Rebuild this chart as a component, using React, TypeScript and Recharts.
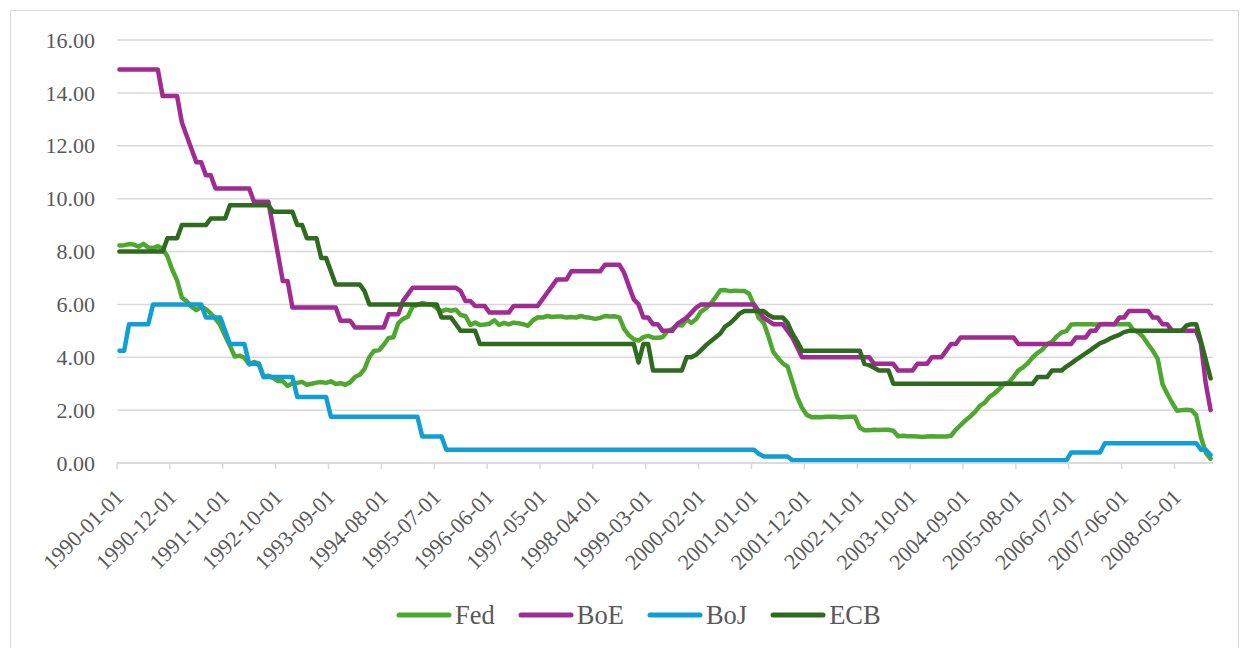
import React from "react";
import { LineChart, Line, XAxis, YAxis, CartesianGrid, Legend } from "recharts";

// monthly categories, Jan 1990 .. Dec 2008
const dates: string[] = [];
for (let y = 1990; y <= 2008; y++) {
  for (let m = 1; m <= 12; m++) dates.push(`${y}-${String(m).padStart(2, "0")}-01`);
}

// one row per year, 12 months each
const fed = [
  8.23, 8.24, 8.28, 8.26, 8.18, 8.29, 8.15, 8.13, 8.2, 8.11, 7.81, 7.31,
  6.91, 6.25, 6.12, 5.91, 5.78, 5.9, 5.82, 5.66, 5.45, 5.21, 4.81, 4.43,
  4.03, 4.06, 3.98, 3.73, 3.82, 3.76, 3.25, 3.3, 3.22, 3.1, 3.09, 2.92,
  3.02, 3.03, 3.07, 2.96, 3.0, 3.04, 3.06, 3.03, 3.09, 2.99, 3.02, 2.96,
  3.05, 3.25, 3.34, 3.56, 4.01, 4.25, 4.26, 4.47, 4.73, 4.76, 5.29, 5.45,
  5.53, 5.92, 5.98, 6.05, 6.01, 6.0, 5.85, 5.74, 5.8, 5.76, 5.8, 5.6,
  5.56, 5.22, 5.31, 5.22, 5.24, 5.27, 5.4, 5.22, 5.3, 5.24, 5.31, 5.29,
  5.25, 5.19, 5.39, 5.51, 5.5, 5.56, 5.52, 5.54, 5.54, 5.5, 5.52, 5.5,
  5.56, 5.51, 5.49, 5.45, 5.49, 5.56, 5.54, 5.55, 5.51, 5.07, 4.83, 4.68,
  4.63, 4.76, 4.81, 4.74, 4.74, 4.76, 4.99, 5.07, 5.22, 5.2, 5.42, 5.3,
  5.45, 5.73, 5.85, 6.02, 6.27, 6.53, 6.54, 6.5, 6.52, 6.51, 6.51, 6.4,
  5.98, 5.49, 5.31, 4.8, 4.21, 3.97, 3.77, 3.65, 3.07, 2.49, 2.09, 1.82,
  1.73, 1.74, 1.73, 1.75, 1.75, 1.75, 1.73, 1.74, 1.75, 1.75, 1.34, 1.24,
  1.24, 1.26, 1.25, 1.26, 1.26, 1.22, 1.01, 1.03, 1.01, 1.01, 1.0, 0.98,
  1.0, 1.01, 1.0, 1.0, 1.0, 1.03, 1.26, 1.43, 1.61, 1.76, 1.93, 2.16,
  2.28, 2.5, 2.63, 2.79, 3.0, 3.04, 3.26, 3.5, 3.62, 3.78, 4.0, 4.16,
  4.29, 4.49, 4.59, 4.79, 4.94, 4.99, 5.24, 5.25, 5.25, 5.25, 5.25, 5.24,
  5.25, 5.26, 5.26, 5.25, 5.25, 5.25, 5.26, 5.02, 4.94, 4.76, 4.49, 4.24,
  3.94, 2.98, 2.61, 2.28, 1.98, 2.0, 2.01, 2.0, 1.81, 0.97, 0.39, 0.16,
];

const boe = [
  14.88, 14.88, 14.88, 14.88, 14.88, 14.88, 14.88, 14.88, 14.88, 13.88, 13.88, 13.88,
  13.88, 12.88, 12.38, 11.88, 11.38, 11.38, 10.88, 10.88, 10.38, 10.38, 10.38, 10.38,
  10.38, 10.38, 10.38, 10.38, 9.88, 9.88, 9.88, 9.88, 8.88, 7.88, 6.88, 6.88,
  5.88, 5.88, 5.88, 5.88, 5.88, 5.88, 5.88, 5.88, 5.88, 5.88, 5.38, 5.38,
  5.38, 5.13, 5.13, 5.13, 5.13, 5.13, 5.13, 5.13, 5.63, 5.63, 5.63, 6.13,
  6.38, 6.63, 6.63, 6.63, 6.63, 6.63, 6.63, 6.63, 6.63, 6.63, 6.63, 6.5,
  6.13, 6.13, 5.94, 5.94, 5.94, 5.69, 5.69, 5.69, 5.69, 5.69, 5.94, 5.94,
  5.94, 5.94, 5.94, 5.94, 6.19, 6.44, 6.69, 6.94, 6.94, 6.94, 7.25, 7.25,
  7.25, 7.25, 7.25, 7.25, 7.25, 7.5, 7.5, 7.5, 7.5, 7.19, 6.69, 6.19,
  6.0, 5.5, 5.5, 5.25, 5.25, 5.0, 5.0, 5.0, 5.25, 5.38, 5.5, 5.69,
  5.88, 6.0, 6.0, 6.0, 6.0, 6.0, 6.0, 6.0, 6.0, 6.0, 6.0, 6.0,
  6.0, 5.75, 5.5, 5.38, 5.25, 5.25, 5.25, 5.0, 4.75, 4.38, 4.0, 4.0,
  4.0, 4.0, 4.0, 4.0, 4.0, 4.0, 4.0, 4.0, 4.0, 4.0, 4.0, 4.0,
  4.0, 3.75, 3.75, 3.75, 3.75, 3.75, 3.5, 3.5, 3.5, 3.5, 3.75, 3.75,
  3.75, 4.0, 4.0, 4.0, 4.25, 4.5, 4.5, 4.75, 4.75, 4.75, 4.75, 4.75,
  4.75, 4.75, 4.75, 4.75, 4.75, 4.75, 4.75, 4.5, 4.5, 4.5, 4.5, 4.5,
  4.5, 4.5, 4.5, 4.5, 4.5, 4.5, 4.5, 4.75, 4.75, 4.75, 5.0, 5.0,
  5.25, 5.25, 5.25, 5.25, 5.5, 5.5, 5.75, 5.75, 5.75, 5.75, 5.75, 5.5,
  5.5, 5.25, 5.25, 5.0, 5.0, 5.0, 5.0, 5.0, 5.0, 4.5, 3.0, 2.0,
];

const boj = [
  4.25, 4.25, 5.25, 5.25, 5.25, 5.25, 5.25, 6.0, 6.0, 6.0, 6.0, 6.0,
  6.0, 6.0, 6.0, 6.0, 6.0, 6.0, 5.5, 5.5, 5.5, 5.5, 5.0, 4.5,
  4.5, 4.5, 4.5, 3.75, 3.75, 3.75, 3.25, 3.25, 3.25, 3.25, 3.25, 3.25,
  3.25, 2.5, 2.5, 2.5, 2.5, 2.5, 2.5, 2.5, 1.75, 1.75, 1.75, 1.75,
  1.75, 1.75, 1.75, 1.75, 1.75, 1.75, 1.75, 1.75, 1.75, 1.75, 1.75, 1.75,
  1.75, 1.75, 1.75, 1.0, 1.0, 1.0, 1.0, 1.0, 0.5, 0.5, 0.5, 0.5,
  0.5, 0.5, 0.5, 0.5, 0.5, 0.5, 0.5, 0.5, 0.5, 0.5, 0.5, 0.5,
  0.5, 0.5, 0.5, 0.5, 0.5, 0.5, 0.5, 0.5, 0.5, 0.5, 0.5, 0.5,
  0.5, 0.5, 0.5, 0.5, 0.5, 0.5, 0.5, 0.5, 0.5, 0.5, 0.5, 0.5,
  0.5, 0.5, 0.5, 0.5, 0.5, 0.5, 0.5, 0.5, 0.5, 0.5, 0.5, 0.5,
  0.5, 0.5, 0.5, 0.5, 0.5, 0.5, 0.5, 0.5, 0.5, 0.5, 0.5, 0.5,
  0.5, 0.35, 0.25, 0.25, 0.25, 0.25, 0.25, 0.25, 0.1, 0.1, 0.1, 0.1,
  0.1, 0.1, 0.1, 0.1, 0.1, 0.1, 0.1, 0.1, 0.1, 0.1, 0.1, 0.1,
  0.1, 0.1, 0.1, 0.1, 0.1, 0.1, 0.1, 0.1, 0.1, 0.1, 0.1, 0.1,
  0.1, 0.1, 0.1, 0.1, 0.1, 0.1, 0.1, 0.1, 0.1, 0.1, 0.1, 0.1,
  0.1, 0.1, 0.1, 0.1, 0.1, 0.1, 0.1, 0.1, 0.1, 0.1, 0.1, 0.1,
  0.1, 0.1, 0.1, 0.1, 0.1, 0.1, 0.4, 0.4, 0.4, 0.4, 0.4, 0.4,
  0.4, 0.75, 0.75, 0.75, 0.75, 0.75, 0.75, 0.75, 0.75, 0.75, 0.75, 0.75,
  0.75, 0.75, 0.75, 0.75, 0.75, 0.75, 0.75, 0.75, 0.75, 0.5, 0.5, 0.3,
];

const ecb = [
  8.0, 8.0, 8.0, 8.0, 8.0, 8.0, 8.0, 8.0, 8.0, 8.0, 8.5, 8.5,
  8.5, 9.0, 9.0, 9.0, 9.0, 9.0, 9.0, 9.25, 9.25, 9.25, 9.25, 9.75,
  9.75, 9.75, 9.75, 9.75, 9.75, 9.75, 9.75, 9.75, 9.5, 9.5, 9.5, 9.5,
  9.5, 9.0, 9.0, 8.5, 8.5, 8.5, 7.75, 7.75, 7.25, 6.75, 6.75, 6.75,
  6.75, 6.75, 6.75, 6.5, 6.0, 6.0, 6.0, 6.0, 6.0, 6.0, 6.0, 6.0,
  6.0, 6.0, 6.0, 6.0, 6.0, 6.0, 6.0, 5.5, 5.5, 5.5, 5.25, 5.0,
  5.0, 5.0, 5.0, 4.5, 4.5, 4.5, 4.5, 4.5, 4.5, 4.5, 4.5, 4.5,
  4.5, 4.5, 4.5, 4.5, 4.5, 4.5, 4.5, 4.5, 4.5, 4.5, 4.5, 4.5,
  4.5, 4.5, 4.5, 4.5, 4.5, 4.5, 4.5, 4.5, 4.5, 4.5, 4.5, 4.5,
  3.8, 4.5, 4.5, 3.5, 3.5, 3.5, 3.5, 3.5, 3.5, 3.5, 4.0, 4.0,
  4.1, 4.27, 4.45, 4.6, 4.75, 4.9, 5.16, 5.28, 5.45, 5.65, 5.75, 5.75,
  5.75, 5.75, 5.75, 5.6, 5.5, 5.5, 5.5, 5.3, 4.9, 4.6, 4.25, 4.25,
  4.25, 4.25, 4.25, 4.25, 4.25, 4.25, 4.25, 4.25, 4.25, 4.25, 4.25, 3.75,
  3.7, 3.6, 3.5, 3.5, 3.5, 3.0, 3.0, 3.0, 3.0, 3.0, 3.0, 3.0,
  3.0, 3.0, 3.0, 3.0, 3.0, 3.0, 3.0, 3.0, 3.0, 3.0, 3.0, 3.0,
  3.0, 3.0, 3.0, 3.0, 3.0, 3.0, 3.0, 3.0, 3.0, 3.0, 3.0, 3.25,
  3.25, 3.25, 3.5, 3.5, 3.5, 3.65, 3.77, 3.9, 4.02, 4.15, 4.27, 4.4,
  4.53, 4.6, 4.7, 4.78, 4.85, 4.95, 5.0, 5.0, 5.0, 5.0, 5.0, 5.0,
  5.0, 5.0, 5.0, 5.0, 5.0, 5.0, 5.2, 5.25, 5.25, 4.6, 3.9, 3.2,
];

const yTicks = [0, 2, 4, 6, 8, 10, 12, 14, 16];

const series = [
  { key: "Fed", color: "#4ea72e" },
  { key: "BoE", color: "#a02b93" },
  { key: "BoJ", color: "#0f9ed5" },
  { key: "ECB", color: "#2e6b1f" },
];

const data = dates.map((d, i) => ({
  date: d,
  Fed: fed[i],
  BoE: boe[i],
  BoJ: boj[i],
  ECB: ecb[i],
}));

const FONT = "Liberation Serif, Tinos, Times New Roman, DejaVu Serif, serif";
const TEXT = "#595959";
const GRID = "#d9d9d9";
const AXIS_Y = 463;
const HALF_BAND = 2.4;

function XTick(props: any) {
  const { x, payload } = props;
  const cy = AXIS_Y + 30;
  return (
    <g>
      <line x1={x - HALF_BAND} y1={AXIS_Y} x2={x - HALF_BAND} y2={AXIS_Y + 6} stroke={GRID} strokeWidth={1.5} />
      <text
        x={x}
        y={cy}
        dy="0.35em"
        textAnchor="end"
        transform={`rotate(-45, ${x}, ${cy})`}
        fill={TEXT}
        fontSize={22}
        style={{ fontFamily: FONT }}
      >
        {payload.value}
      </text>
    </g>
  );
}

function YTick(props: any) {
  const { y, payload } = props;
  return (
    <text x={95} y={y} dy="0.35em" textAnchor="end" fill={TEXT} fontSize={22} style={{ fontFamily: FONT }}>
      {Number(payload.value).toFixed(2)}
    </text>
  );
}

function LegendBox() {
  return (
    <div style={{ height: 50, display: "flex", alignItems: "center", paddingLeft: 396 }}>
      {series.map((s) => (
        <div key={s.key} style={{ display: "flex", alignItems: "center", marginRight: 23 }}>
          <svg width={56} height={10} style={{ display: "block" }}>
            <line x1={3} y1={5} x2={53} y2={5} stroke={s.color} strokeWidth={5} strokeLinecap="round" />
          </svg>
          <span style={{ marginLeft: 3, fontFamily: FONT, fontSize: 26.5, color: TEXT, lineHeight: "30px" }}>
            {s.key}
          </span>
        </div>
      ))}
    </div>
  );
}

export default function App() {
  return (
    <div style={{ position: "absolute", left: 0, top: 0, width: 1248, height: 648, background: "#fff", overflow: "hidden", fontFamily: FONT }}>
      <div
        style={{
          position: "absolute",
          left: 10,
          top: 10,
          width: 1227,
          height: 660,
          border: `1px solid ${GRID}`,
        }}
      />
      <div style={{ position: "absolute", left: 0, top: 0 }}>
        <LineChart width={1248} height={648} data={data} margin={{ top: 40, right: 35, bottom: 8, left: 0 }}>
          <CartesianGrid vertical={false} stroke={GRID} strokeWidth={1.5} />
          <XAxis
            dataKey="date"
            interval={10}
            height={127}
            padding={{ left: HALF_BAND, right: HALF_BAND }}
            axisLine={{ stroke: GRID, strokeWidth: 1.5 }}
            tickLine={false}
            tick={<XTick />}
          />
          <YAxis
            width={117}
            domain={[0, 16]}
            ticks={yTicks}
            axisLine={false}
            tickLine={false}
            tick={<YTick />}
          />
          <Legend verticalAlign="bottom" height={50} content={<LegendBox />} />
          {series.map((s) => (
            <Line
              key={s.key}
              type="linear"
              dataKey={s.key}
              stroke={s.color}
              strokeWidth={4.5}
              strokeLinecap="round"
              strokeLinejoin="round"
              dot={false}
              isAnimationActive={false}
            />
          ))}
        </LineChart>
      </div>
    </div>
  );
}
